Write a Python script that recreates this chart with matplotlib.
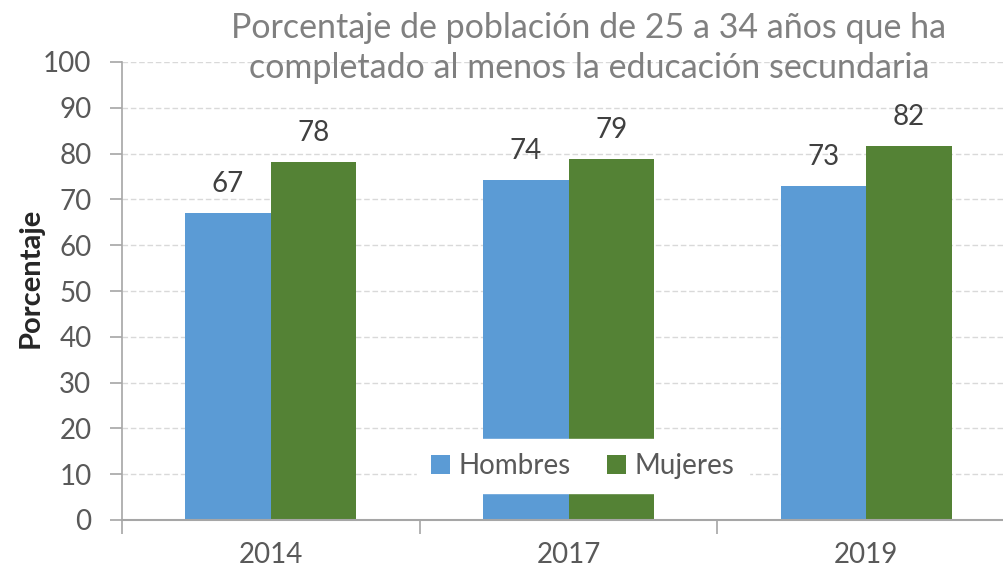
import numpy as np
import matplotlib
matplotlib.use("Agg")
import matplotlib.pyplot as plt

YEARS = ["2014", "2017", "2019"]
HOMBRES = [67.0, 74.3, 72.9]
MUJERES = [78.2, 78.8, 81.7]
SERIES = ["Hombres", "Mujeres"]
TITLE = "Porcentaje de población de 25 a 34 años que ha\ncompletado al menos la educación secundaria"
YLABEL = "Porcentaje"

BLUE = "#5B9BD5"
GREEN = "#548235"

plt.rcParams['font.family'] = ['Lato', 'DejaVu Sans']

fig = plt.figure(figsize=(10.04, 5.71), dpi=100)
ax = fig.add_axes([122 / 1004, 51 / 571, 893 / 1004, 458 / 571])

x = np.arange(len(YEARS))
w = 0.287
b1 = ax.bar(x - w / 2, HOMBRES, w, color=BLUE, label=SERIES[0], zorder=2)
b2 = ax.bar(x + w / 2, MUJERES, w, color=GREEN, label=SERIES[1], zorder=2)

# value labels above each bar
for bars in (b1, b2):
    for r in bars:
        ax.text(r.get_x() + r.get_width() / 2, r.get_height() + 3.5, f"{r.get_height():.0f}",
                ha="center", va="bottom", fontsize=20, color="#404040")

ax.set_xlim(-0.5, 2.5)
ax.set_ylim(0, 100)
ax.set_yticks(np.arange(0, 101, 10))
ax.set_xticks(x)
ax.set_xticklabels(YEARS)
ax.set_xticks([-0.5, 0.5, 1.5, 2.5], minor=True)
ax.tick_params(axis="x", which="major", length=0, pad=16, labelsize=20, labelcolor="#595959")
ax.tick_params(axis="x", which="minor", length=10, width=1.2, color="#A6A6A6")
ax.tick_params(axis="y", length=9, width=1.2, color="#A6A6A6", labelsize=20, labelcolor="#595959", pad=13)

ax.grid(axis="y", linestyle=(0, (4, 2)), color="#D9D9D9", linewidth=1, zorder=0)
for s in ["top", "right"]:
    ax.spines[s].set_visible(False)
for s in ["left", "bottom"]:
    ax.spines[s].set_color("#A6A6A6")
    ax.spines[s].set_zorder(3)
ax.spines["left"].set_linewidth(1.2)
ax.spines["bottom"].set_linewidth(1.5)

ax.set_ylabel(YLABEL, fontsize=21, fontweight="bold", color="#262626")
ax.yaxis.set_label_coords(44 / 1004, 1 - 278 / 571, transform=fig.transFigure)

leg = ax.legend(loc="center", bbox_to_anchor=(0.516, 0.118), ncol=2, frameon=True,
                fontsize=20, handlelength=0.7, handleheight=0.7, handletextpad=0.3,
                columnspacing=1.3, borderpad=0.5, fancybox=False)
leg.get_frame().set_facecolor("white")
leg.get_frame().set_edgecolor("white")
leg.get_frame().set_alpha(1)
leg.set_zorder(5)
for t in leg.get_texts():
    t.set_color("#595959")

fig.text(589 / 1004, 1 - 48 / 571, TITLE, ha="center", va="center", fontsize=24.5,
         color="#808080", linespacing=1.3)

fig.savefig("out.png", dpi=100)
